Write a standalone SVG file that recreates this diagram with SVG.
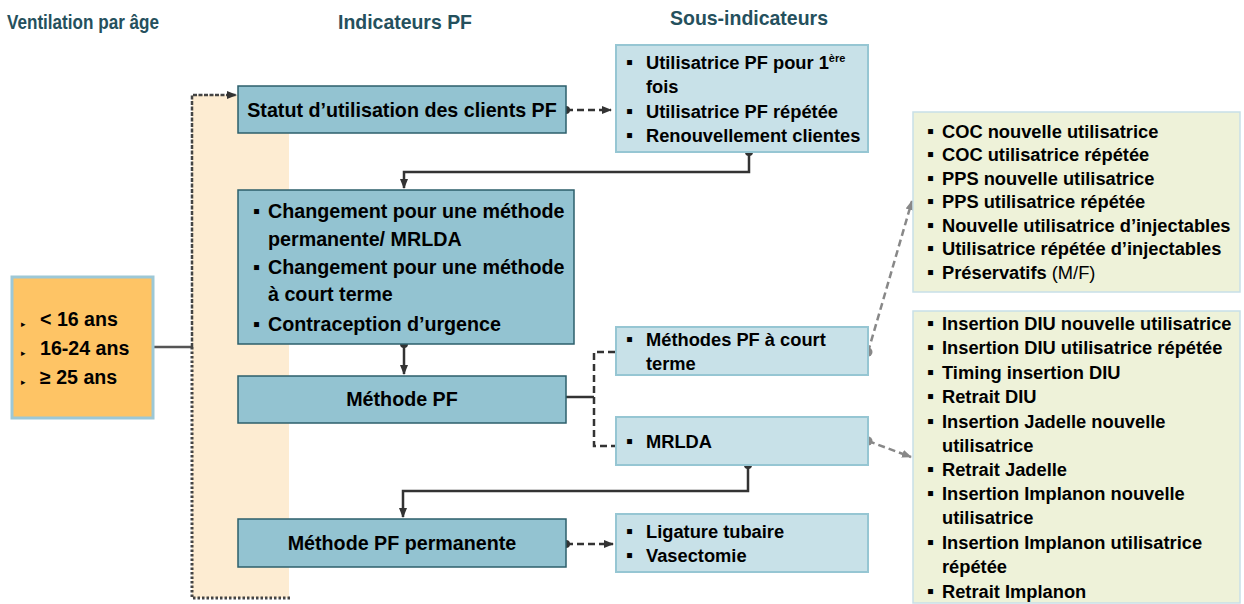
<svg xmlns="http://www.w3.org/2000/svg" width="1244" height="604" viewBox="0 0 1244 604">
  <style>
    text { font-family: "Liberation Sans", Arial, sans-serif; font-weight: bold; fill: #000; }
    .hdr { font-size: 21px; fill: #25505d; }
    .t18 { font-size: 18.3px; }
    .t20 { font-size: 19.7px; }
    .t19 { font-size: 19.6px; }
    .sup { font-size: 11px; }
    .norm { font-weight: normal; }
    .blt { font-family: "Liberation Sans", "DejaVu Sans", sans-serif; font-size: 20px; }
    .tri { font-family: "DejaVu Sans", sans-serif; font-size: 9px; }
    .main { fill: #93c3d1; stroke: #2d5f6b; stroke-width: 1.5; }
    .sub { fill: #c8e1e8; stroke: #96c6d3; stroke-width: 2; }
    .green { fill: #eef2d9; stroke: #c8dfe7; stroke-width: 1.5; }
    .solid { fill: none; stroke: #333; stroke-width: 2.5; }
    .dash { fill: none; stroke: #333; stroke-width: 2.5; stroke-dasharray: 7 4; }
    .gdash { fill: none; stroke: #888; stroke-width: 2.5; stroke-dasharray: 7 4; }
    .dot { fill: #333; }
    .gdot { fill: #888; }
  </style>
  <defs>
    <marker id="ah" markerUnits="userSpaceOnUse" markerWidth="10" markerHeight="10" viewBox="0 0 10 10" refX="9" refY="5" orient="auto">
      <path d="M0,1 L10,5 L0,9 Z" fill="#333"/>
    </marker>
    <marker id="gah" markerUnits="userSpaceOnUse" markerWidth="10" markerHeight="10" viewBox="0 0 10 10" refX="9" refY="5" orient="auto">
      <path d="M0,1 L10,5 L0,9 Z" fill="#888"/>
    </marker>
  </defs>

  <rect width="1244" height="604" fill="#fff"/>

  <!-- column headings -->
  <text class="hdr" x="7" y="29" textLength="152" lengthAdjust="spacingAndGlyphs">Ventilation par âge</text>
  <text class="hdr" x="338" y="29" textLength="134" lengthAdjust="spacingAndGlyphs">Indicateurs PF</text>
  <text class="hdr" x="670" y="25" textLength="158" lengthAdjust="spacingAndGlyphs">Sous-indicateurs</text>

  <!-- age band backdrop -->
  <rect x="192" y="95" width="97" height="503" fill="#fdecd2"/>

  <!-- connectors -->
  <g id="connectors">
    <line x1="154" y1="347" x2="192" y2="347" stroke="#555" stroke-width="2.5"/>
    <path d="M192,347 V95 H236" fill="none" stroke="#444" stroke-width="2.5" stroke-dasharray="4 1.5" marker-end="url(#ah)"/>
    <path d="M192,347 V598 H290" fill="none" stroke="#444" stroke-width="3" stroke-dasharray="2.5 2"/>

    <line class="dash" x1="566" y1="110" x2="611" y2="110" marker-end="url(#ah)"/>
    <circle class="dot" cx="566" cy="110" r="4"/>

    <path class="solid" d="M749,152 V172 H404 V188" marker-end="url(#ah)"/>
    <circle class="dot" cx="749" cy="152" r="4"/>

    <path class="solid" d="M404,344 V374" marker-end="url(#ah)"/>
    <circle class="dot" cx="404" cy="344" r="4"/>

    <path class="solid" d="M566,397 H594"/>
    <path class="dash" d="M615,352 H594 V446 H615"/>

    <path class="gdash" d="M868,352 L912,201" marker-end="url(#gah)"/>
    <circle class="gdot" cx="868" cy="352" r="4.5"/>
    <path class="gdash" d="M868,441 L911,457" marker-end="url(#gah)"/>
    <circle class="gdot" cx="868" cy="441" r="4.5"/>

    <path class="solid" d="M748,465 V491 H403 V517" marker-end="url(#ah)"/>
    <circle class="dot" cx="748" cy="465" r="4"/>

    <line class="dash" x1="566" y1="544" x2="613" y2="544" marker-end="url(#ah)"/>
    <circle class="dot" cx="566" cy="544" r="4"/>
  </g>

  <!-- age groups -->
  <g id="age">
    <rect x="12" y="277" width="141" height="141" fill="#fec465" stroke="#9dc8d6" stroke-width="3"/>
    <text class="tri" x="21" y="327">▸</text>
    <text class="tri" x="21" y="356">▸</text>
    <text class="tri" x="21" y="385">▸</text>
    <text class="t19" x="40" y="326">&lt; 16 ans</text>
    <text class="t19" x="40" y="355">16-24 ans</text>
    <text class="t19" x="40" y="384">≥ 25 ans</text>
  </g>

  <!-- main indicators -->
  <g id="statut">
    <rect class="main" x="238" y="86" width="328" height="47"/>
    <text class="t20" x="402" y="117" text-anchor="middle">Statut d’utilisation des clients PF</text>
  </g>

  <g id="changement">
    <rect class="main" x="238" y="190" width="336" height="154"/>
    <text class="blt" x="253" y="218">▪</text>
    <text class="blt" x="253" y="274">▪</text>
    <text class="blt" x="253" y="331">▪</text>
    <text class="t20" x="268" y="218">Changement pour une méthode</text>
    <text class="t20" x="268" y="246">permanente/ MRLDA</text>
    <text class="t20" x="268" y="274">Changement pour une méthode</text>
    <text class="t20" x="268" y="301">à court terme</text>
    <text class="t20" x="268" y="331">Contraception d’urgence</text>
  </g>

  <g id="methode">
    <rect class="main" x="238" y="376" width="328" height="47"/>
    <text class="t20" x="402" y="406" text-anchor="middle">Méthode PF</text>
  </g>

  <g id="methode-permanente">
    <rect class="main" x="238" y="519" width="328" height="48"/>
    <text class="t20" x="402" y="550" text-anchor="middle">Méthode PF permanente</text>
  </g>

  <!-- sub-indicators -->
  <g id="sous-statut">
    <rect class="sub" x="616" y="45" width="252" height="107"/>
    <text class="blt" x="626" y="69">▪</text>
    <text class="blt" x="626" y="118">▪</text>
    <text class="blt" x="626" y="142">▪</text>
    <text class="t18" x="646" y="69">Utilisatrice PF pour 1<tspan class="sup" dy="-7">ère</tspan></text>
    <text class="t18" x="646" y="93">fois</text>
    <text class="t18" x="646" y="118">Utilisatrice PF répétée</text>
    <text class="t18" x="646" y="142">Renouvellement clientes</text>
  </g>

  <g id="court-terme">
    <rect class="sub" x="616" y="327" width="252" height="48"/>
    <text class="blt" x="626" y="346">▪</text>
    <text class="t18" x="646" y="346">Méthodes PF à court</text>
    <text class="t18" x="646" y="370">terme</text>
  </g>

  <g id="mrlda">
    <rect class="sub" x="616" y="417" width="252" height="48"/>
    <text class="blt" x="626" y="448">▪</text>
    <text class="t18" x="646" y="448">MRLDA</text>
  </g>

  <g id="permanente-sous">
    <rect class="sub" x="616" y="514" width="252" height="58"/>
    <text class="blt" x="626" y="538">▪</text>
    <text class="blt" x="626" y="562">▪</text>
    <text class="t18" x="646" y="538">Ligature tubaire</text>
    <text class="t18" x="646" y="562">Vasectomie</text>
  </g>

  <!-- detail lists -->
  <g id="court-terme-detail">
    <rect class="green" x="913" y="112" width="327" height="180"/>
    <g class="blt">
      <text x="927" y="138">▪</text>
      <text x="927" y="161">▪</text>
      <text x="927" y="185">▪</text>
      <text x="927" y="208">▪</text>
      <text x="927" y="232">▪</text>
      <text x="927" y="255">▪</text>
      <text x="927" y="279">▪</text>
    </g>
    <text class="t18" x="942" y="138">COC nouvelle utilisatrice</text>
    <text class="t18" x="942" y="161">COC utilisatrice répétée</text>
    <text class="t18" x="942" y="185">PPS nouvelle utilisatrice</text>
    <text class="t18" x="942" y="208">PPS utilisatrice répétée</text>
    <text class="t18" x="942" y="232">Nouvelle utilisatrice d’injectables</text>
    <text class="t18" x="942" y="255">Utilisatrice répétée d’injectables</text>
    <text class="t18" x="942" y="279">Préservatifs <tspan class="norm">(M/F)</tspan></text>
  </g>

  <g id="mrlda-detail">
    <rect class="green" x="913" y="311" width="327" height="292"/>
    <g class="blt">
      <text x="927" y="330">▪</text>
      <text x="927" y="354">▪</text>
      <text x="927" y="379">▪</text>
      <text x="927" y="403">▪</text>
      <text x="927" y="428">▪</text>
      <text x="927" y="476">▪</text>
      <text x="927" y="500">▪</text>
      <text x="927" y="549">▪</text>
      <text x="927" y="598">▪</text>
    </g>
    <text class="t18" x="942" y="330">Insertion DIU nouvelle utilisatrice</text>
    <text class="t18" x="942" y="354">Insertion DIU utilisatrice répétée</text>
    <text class="t18" x="942" y="379">Timing insertion DIU</text>
    <text class="t18" x="942" y="403">Retrait DIU</text>
    <text class="t18" x="942" y="428">Insertion Jadelle nouvelle</text>
    <text class="t18" x="942" y="452">utilisatrice</text>
    <text class="t18" x="942" y="476">Retrait Jadelle</text>
    <text class="t18" x="942" y="500">Insertion Implanon nouvelle</text>
    <text class="t18" x="942" y="524">utilisatrice</text>
    <text class="t18" x="942" y="549">Insertion Implanon utilisatrice</text>
    <text class="t18" x="942" y="573">répétée</text>
    <text class="t18" x="942" y="598">Retrait Implanon</text>
  </g>
</svg>
